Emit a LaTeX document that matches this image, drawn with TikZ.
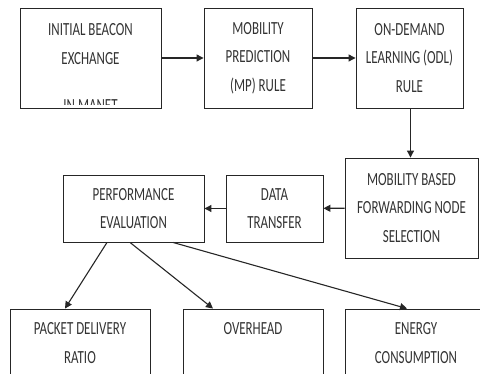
\documentclass[tikz,border=0pt]{standalone}
\usepackage{fontspec}
\newfontfamily\cf[FakeStretch=0.70]{Carlito}
\usetikzlibrary{arrows.meta}
\begin{document}
\begin{tikzpicture}[x=1pt,y=-1pt,
 lbl/.style={inner sep=0pt,align=center,font=\cf\fontsize{18.5}{28.5}\selectfont,text=black!80},
 box/.style={lbl,draw=black!85,line width=0.9pt,rectangle},
 arr/.style={draw=black!85,line width=1.1pt,-{Triangle[length=7pt,width=7pt]}}]
\useasboundingbox (0,0) rectangle (480,374);
\clip (0,0) rectangle (480,374);
\node[box,minimum width=141pt,minimum height=100pt] (b1) at (90.5,58) {INITIAL BEACON\\EXCHANGE\\\mbox{}};
\begin{scope}
\clip (21,95) rectangle (160,104.5);
\node[lbl] (im) at (90.5,106) {IN MANET};
\end{scope}
\node[box,minimum width=108pt,minimum height=100pt] (b2) at (258,58) {MOBILITY\\PREDICTION\\(MP) RULE};
\node[box,minimum width=107pt,minimum height=100pt] (b3) at (409.5,58) {ON-DEMAND\\LEARNING (ODL)\\RULE};
\node[box,minimum width=133pt,minimum height=100pt] (b4) at (411.5,208) {MOBILITY BASED\\FORWARDING NODE\\SELECTION};
\node[box,minimum width=97pt,minimum height=67pt] (dt) at (274.5,208.5) {DATA\\TRANSFER};
\node[box,minimum width=141pt,minimum height=67pt] (pe) at (133.5,208.5) {PERFORMANCE\\EVALUATION};
\node[box,minimum width=140pt,minimum height=96pt] (pdr) at (80,357) {PACKET DELIVERY\\RATIO\\\mbox{}};
\node[box,minimum width=140pt,minimum height=96pt] (ov) at (253,357) {OVERHEAD\\\mbox{}\\\mbox{}};
\node[box,minimum width=142pt,minimum height=96pt] (en) at (416,357) {ENERGY\\CONSUMPTION\\\mbox{}};
\draw[arr] (b1) -- (b2);
\draw[arr] (b2) -- (b3);
\draw[arr] ([xshift=1pt]b3.south) -- ([xshift=1pt]b3.south |- b4.north);
\draw[arr] (b4) -- (dt);
\draw[arr] (dt) -- (pe);
\draw[arr] ([xshift=-26.5pt]pe.south) -- ([xshift=-15pt]pdr.north);
\draw[arr] ([xshift=-3.5pt]pe.south) -- ([xshift=-40pt]ov.north);
\draw[arr] ([xshift=39.5pt]pe.south) -- ([xshift=-9pt]en.north);
\end{tikzpicture}
\end{document}
